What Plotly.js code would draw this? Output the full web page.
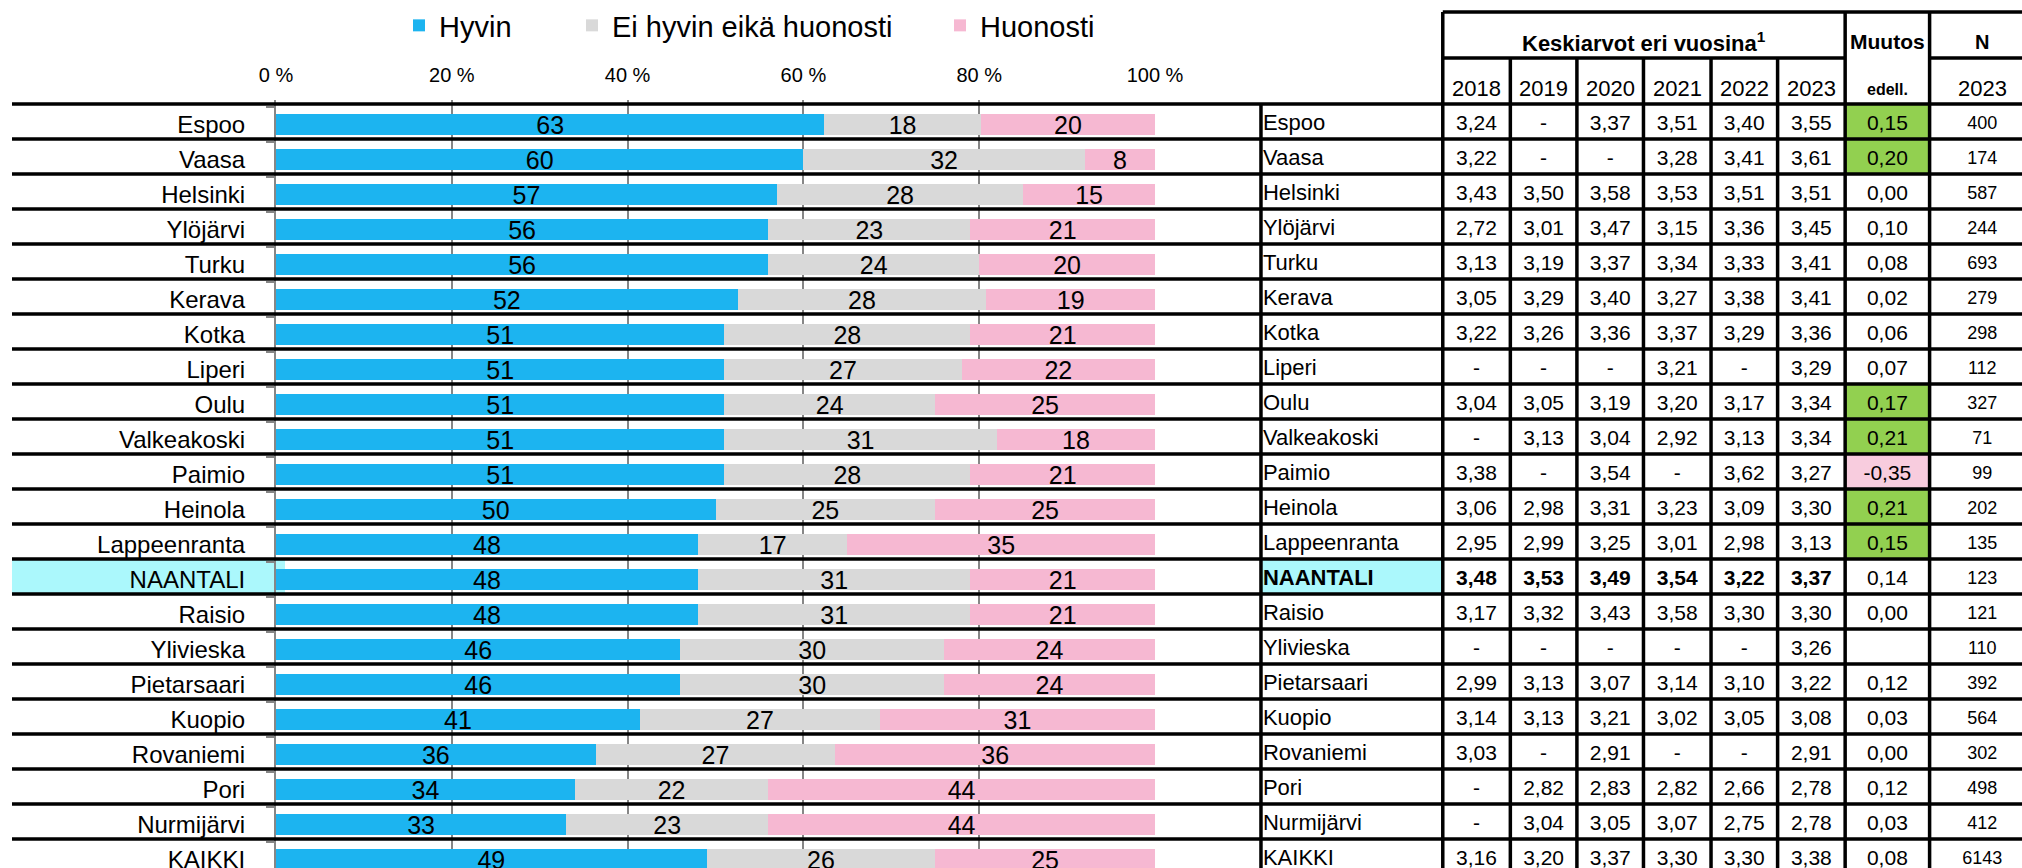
<!DOCTYPE html>
<html>
<head>
<meta charset="utf-8">
<script src="https://cdn.plot.ly/plotly-3.0.1.min.js"></script>
<style>
  html, body { margin: 0; padding: 0; background: #fff; }
  #chart { width: 2022px; height: 868px; }
</style>
</head>
<body>
<div id="chart"></div>
<script>
// --- data ---
const municipalities = ['Espoo','Vaasa','Helsinki','Ylöjärvi','Turku','Kerava','Kotka','Liperi','Oulu','Valkeakoski','Paimio','Heinola','Lappeenranta','NAANTALI','Raisio','Ylivieska','Pietarsaari','Kuopio','Rovaniemi','Pori','Nurmijärvi','KAIKKI'];
const hyvin    = [63,60,57,56,56,52,51,51,51,51,51,50,48,48,48,46,46,41,36,34,33,49];
const eiHyvin  = [18,32,28,23,24,28,28,27,24,31,28,25,17,31,31,30,30,27,27,22,23,26];
const huonosti = [20, 8,15,21,20,19,21,22,25,18,21,25,35,21,21,24,24,31,36,44,44,25];
const seriesNames = ['Hyvin', 'Ei hyvin eikä huonosti', 'Huonosti'];
const pctTicks = [0, 20, 40, 60, 80, 100];

const years = ['2018','2019','2020','2021','2022','2023'];
const m2018 = [3.24,3.22,3.43,2.72,3.13,3.05,3.22,null,3.04,null,3.38,3.06,2.95,3.48,3.17,null,2.99,3.14,3.03,null,null,3.16];
const m2019 = [null,null,3.50,3.01,3.19,3.29,3.26,null,3.05,3.13,null,2.98,2.99,3.53,3.32,null,3.13,3.13,null,2.82,3.04,3.20];
const m2020 = [3.37,null,3.58,3.47,3.37,3.40,3.36,null,3.19,3.04,3.54,3.31,3.25,3.49,3.43,null,3.07,3.21,2.91,2.83,3.05,3.37];
const m2021 = [3.51,3.28,3.53,3.15,3.34,3.27,3.37,3.21,3.20,2.92,null,3.23,3.01,3.54,3.58,null,3.14,3.02,null,2.82,3.07,3.30];
const m2022 = [3.40,3.41,3.51,3.36,3.33,3.38,3.29,null,3.17,3.13,3.62,3.09,2.98,3.22,3.30,null,3.10,3.05,null,2.66,2.75,3.30];
const m2023 = [3.55,3.61,3.51,3.45,3.41,3.41,3.36,3.29,3.34,3.34,3.27,3.30,3.13,3.37,3.30,3.26,3.22,3.08,2.91,2.78,2.78,3.38];
const muutos = [0.15,0.20,0.00,0.10,0.08,0.02,0.06,0.07,0.17,0.21,-0.35,0.21,0.15,0.14,0.00,null,0.12,0.03,0.00,0.12,0.03,0.08];
const nCount = [400,174,587,244,693,279,298,112,327,71,99,202,135,123,121,110,392,564,302,498,412,6143];
const highlight = 'NAANTALI';

// --- layout constants ---
const W = 2022, H = 868;
const FONT = 'Liberation Sans, Arial, sans-serif';
const colors = ['#1CB4F0', '#D9D9D9', '#F6B8D2'];
const green = '#92D050', pink = '#F8CCDE', cyan = '#ABF8FC';
const gridGrey = '#868686';
// table column edges, px from the table's left border
const colEdges = [0, 183, 251, 318, 385, 453, 520, 588, 673, 779];
const off = 3 / 35;                      // cell text sits a little below the row centre
const rowEdge = i => i - 0.5 - off;
const py = px => 1 - px / H;             // paper y from a pixel row
const mid = (a, b) => (a + b) / 2;

const fmt = v => v === null ? '-' : v.toFixed(2).replace('.', ',');
const bold = (s, i) => municipalities[i] === highlight ? '<b>' + s + '</b>' : s;

const traces = [];
[hyvin, eiHyvin, huonosti].forEach((vals, k) => {
  traces.push({
    type: 'bar', orientation: 'h',
    x: vals, y: municipalities,
    name: seriesNames[k],
    legend: ['legend', 'legend2', 'legend3'][k],
    marker: { color: colors[k], line: { width: 0 } },
    width: 0.6,
    text: vals.map(String),
    textposition: 'inside', insidetextanchor: 'middle',
    textangle: 0, constraintext: 'none',
    textfont: { size: 25, color: '#000', family: FONT },
    hoverinfo: 'skip'
  });
});

function tableText(x, texts, pos, size) {
  return {
    type: 'scatter', mode: 'text', xaxis: 'x2', yaxis: 'y',
    x: municipalities.map(() => x), y: municipalities,
    text: texts, textposition: pos,
    textfont: { size: size, color: '#000', family: FONT },
    cliponaxis: false, showlegend: false, hoverinfo: 'skip'
  };
}

traces.push(tableText(colEdges[0] + 2, municipalities.map(bold), 'middle right', 22));
[m2018, m2019, m2020, m2021, m2022, m2023].forEach((arr, j) => {
  traces.push(tableText(mid(colEdges[j + 1], colEdges[j + 2]), arr.map((v, i) => bold(fmt(v), i)), 'middle center', 21));
});
traces.push(tableText(mid(colEdges[7], colEdges[8]), muutos.map(v => v === null ? ' ' : fmt(v)), 'middle center', 21));
traces.push(tableText(mid(colEdges[8], colEdges[9]), nCount.map(String), 'middle center', 18));

// --- shapes: fills, separators, table grid ---
const shapes = [];
const hi = municipalities.indexOf(highlight);
shapes.push({ type: 'rect', layer: 'below', xref: 'paper', yref: 'y', x0: 12 / W, x1: 285 / W,
  y0: rowEdge(hi), y1: rowEdge(hi + 1), fillcolor: cyan, line: { width: 0 } });
shapes.push({ type: 'rect', layer: 'below', xref: 'x2', yref: 'y', x0: colEdges[0], x1: colEdges[1],
  y0: rowEdge(hi), y1: rowEdge(hi + 1), fillcolor: cyan, line: { width: 0 } });
muutos.forEach((v, i) => {
  if (v === null || Math.abs(v) < 0.15) return;
  shapes.push({ type: 'rect', layer: 'below', xref: 'x2', yref: 'y', x0: colEdges[7], x1: colEdges[8],
    y0: rowEdge(i), y1: rowEdge(i + 1), fillcolor: v > 0 ? green : pink, line: { width: 0 } });
});
const black = { color: '#000', width: 3.5 };
for (let i = 0; i <= municipalities.length; i++) {
  shapes.push({ type: 'line', xref: 'paper', yref: 'y', x0: 12 / W, x1: 1, y0: rowEdge(i), y1: rowEdge(i), line: black });
}
// name column left border, rows only
shapes.push({ type: 'line', xref: 'x2', yref: 'y', x0: colEdges[0], x1: colEdges[0], y0: rowEdge(0), y1: municipalities.length, line: black });
// full-height borders
[1, 7, 8].forEach(k => shapes.push({ type: 'line', xref: 'x2', yref: 'paper', x0: colEdges[k], x1: colEdges[k], y0: 0, y1: py(12), line: black }));
// year separators below the merged header
[2, 3, 4, 5, 6].forEach(k => shapes.push({ type: 'line', xref: 'x2', yref: 'paper', x0: colEdges[k], x1: colEdges[k], y0: 0, y1: py(58), line: black }));
shapes.push({ type: 'line', xref: 'x2', yref: 'paper', x0: colEdges[1], x1: colEdges[9], y0: py(12), y1: py(12), line: black });
shapes.push({ type: 'line', xref: 'x2', yref: 'paper', x0: colEdges[1], x1: colEdges[7], y0: py(58), y1: py(58), line: black });
shapes.push({ type: 'line', xref: 'x2', yref: 'paper', x0: colEdges[8], x1: colEdges[9], y0: py(58), y1: py(58), line: black });

// --- header annotations ---
const ann = (x, y, text, size) => ({ xref: 'x2', yref: 'paper', x: x, y: py(y), text: text, showarrow: false,
  xanchor: 'center', yanchor: 'middle', font: { size: size, color: '#000', family: FONT } });
const annotations = [
  ann(mid(colEdges[1], colEdges[7]), 42, '<b>Keskiarvot eri vuosina</b><sup><b>1</b></sup>', 22),
  ann(mid(colEdges[7], colEdges[8]), 42, '<b>Muutos</b>', 21),
  ann(mid(colEdges[7], colEdges[8]), 90, '<b>edell.</b>', 16),
  ann(mid(colEdges[8], colEdges[9]), 42, '<b>N</b>', 20),
  ann(mid(colEdges[8], colEdges[9]), 89, years[years.length - 1], 22)
];
years.forEach((yr, j) => annotations.push(ann(mid(colEdges[j + 1], colEdges[j + 2]), 89, yr, 22)));

// legends kept inside the figure so they never push the margins
const legendBase = { orientation: 'h', xanchor: 'left', yanchor: 'top', y: 1,
  font: { size: 29, color: '#000', family: FONT }, bgcolor: 'rgba(0,0,0,0)' };

const layout = {
  width: W, height: H,
  margin: { l: 0, r: 0, t: 0, b: 0 },
  paper_bgcolor: '#fff', plot_bgcolor: 'rgba(0,0,0,0)',
  font: { family: FONT, color: '#000' },
  barmode: 'stack', barnorm: 'percent',
  showlegend: true,
  legend:  Object.assign({}, legendBase, { x: 399 / W }),
  legend2: Object.assign({}, legendBase, { x: 572 / W }),
  legend3: Object.assign({}, legendBase, { x: 940 / W }),
  xaxis: {
    domain: [276 / W, 1155 / W], range: [0, 100], side: 'top', anchor: 'y',
    tickmode: 'array', tickvals: pctTicks, ticktext: pctTicks.map(v => v + ' %'),
    tickfont: { size: 20, color: '#000' }, ticks: '', ticklabelstandoff: 13,
    showgrid: true, gridcolor: gridGrey, gridwidth: 2, zeroline: false, showline: false, fixedrange: true
  },
  xaxis2: {
    domain: [1256 / W, 1], range: [-5, 766], anchor: 'y',
    visible: false, fixedrange: true
  },
  yaxis: {
    domain: [0, py(100)], type: 'category', categoryarray: municipalities,
    range: [(H - 124.5) / 35, -0.7], anchor: 'x',
    showline: true, linecolor: gridGrey, linewidth: 2,
    ticks: 'outside', tickson: 'boundaries', ticklen: 8, tickcolor: gridGrey, tickwidth: 2,
    tickfont: { size: 24, color: '#000' }, ticklabelstandoff: 24,
    showgrid: false, zeroline: false, fixedrange: true
  },
  shapes: shapes,
  annotations: annotations
};

Plotly.newPlot('chart', traces, layout, { displayModeBar: false, staticPlot: true });
</script>
</body>
</html>
